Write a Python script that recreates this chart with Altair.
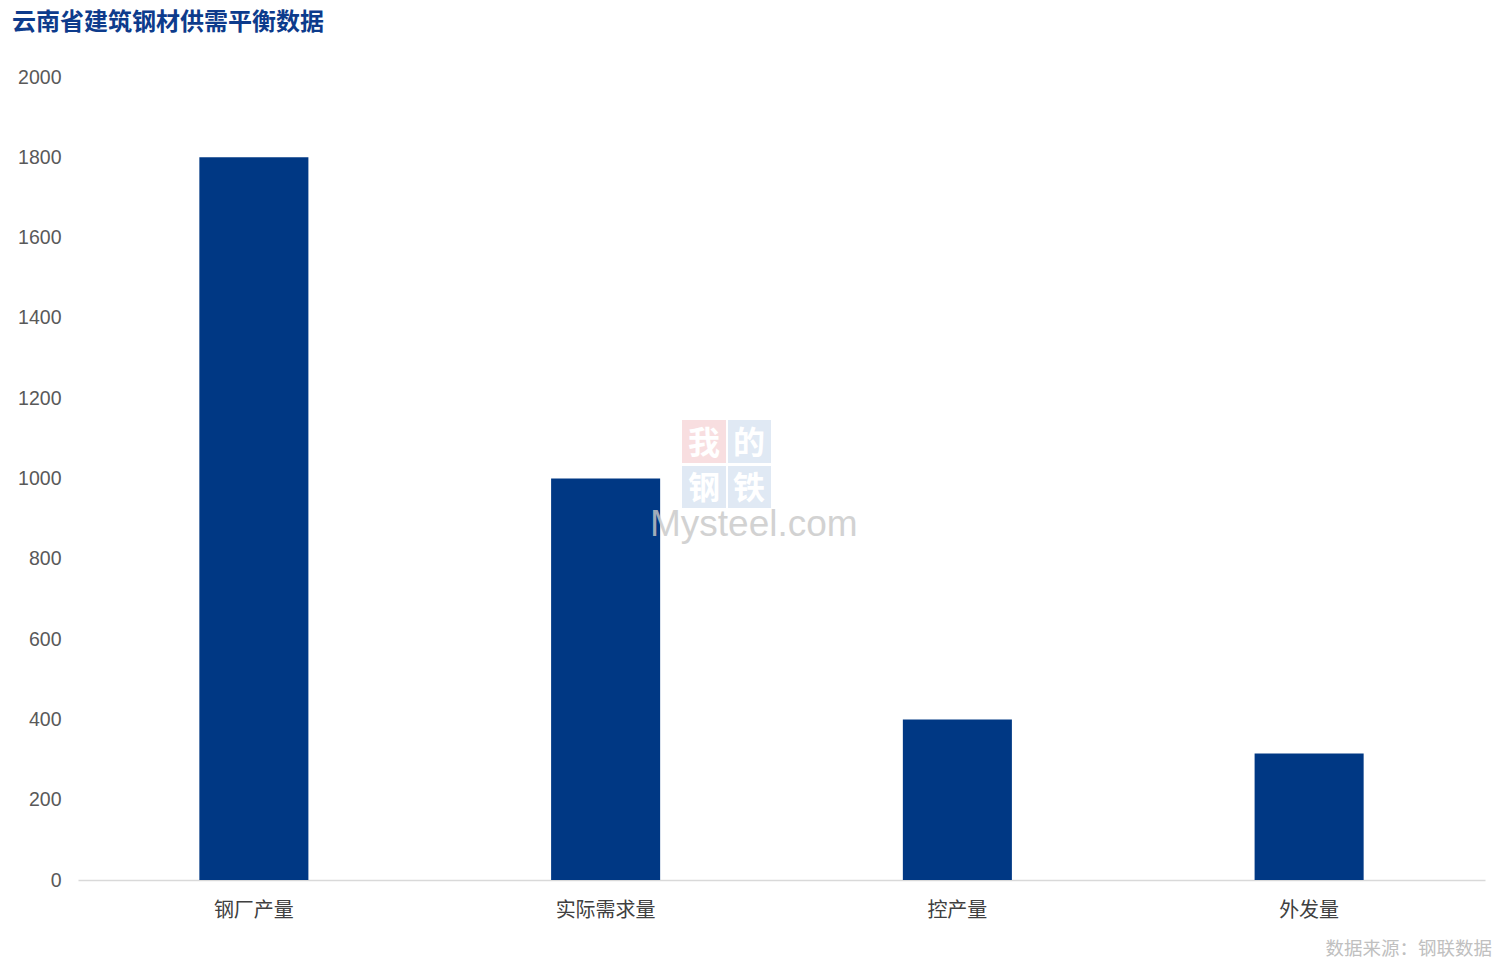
import altair as alt
import pandas as pd

categories = ["钢厂产量", "实际需求量", "控产量", "外发量"]
values = [1800, 1000, 400, 315]
y_ticks = [0, 200, 400, 600, 800, 1000, 1200, 1400, 1600, 1800, 2000]

title_text = "云南省建筑钢材供需平衡数据"
source_text = "数据来源：钢联数据"

df = pd.DataFrame({"cat": categories, "val": values})

W, H = 1407, 803
CJK = "Noto Sans CJK SC"

bars = alt.Chart(df).mark_bar(color="#003884").encode(
    x=alt.X("cat:N", sort=categories,
            scale=alt.Scale(paddingInner=0.69, paddingOuter=0.345),
            axis=alt.Axis(title=None, labelAngle=0, labelFont=CJK, labelFontSize=20,
                          labelColor="#404040", labelPadding=20, ticks=False,
                          domainColor="#d9d9d9", domainWidth=1.5)),
    y=alt.Y("val:Q", scale=alt.Scale(domain=[0, 2000], nice=False),
            axis=alt.Axis(title=None, values=y_ticks, format="d", grid=False, domain=False,
                          ticks=False, labelFont="Liberation Sans", labelFontSize=19.5,
                          labelColor="#595959", labelPadding=17)),
)

one = pd.DataFrame({"a": [0]})

def txt(text, x, y, size, color, font, weight="normal", align="left", opacity=1.0):
    return alt.Chart(one).mark_text(text=text, align=align, baseline="alphabetic",
                                    fontSize=size, color=color, font=font,
                                    fontWeight=weight, opacity=opacity).encode(
        x=alt.value(x), y=alt.value(y))

def box(x1, x2, y1, y2, color):
    return alt.Chart(one).mark_rect(color=color, opacity=0.75).encode(
        x=alt.value(x1), x2=alt.value(x2), y=alt.value(y1), y2=alt.value(y2))

title = txt(title_text, -66, -47, 24, "#0d3b8c", CJK, weight="bold")
source = txt(source_text, 1414, 878, 18.5, "#c0c0c0", CJK, align="right")

wm = [
    box(604, 648, 343, 386, "#f6d3d6"),
    box(650, 693, 343, 386, "#d6e2f0"),
    box(604, 648, 389, 431, "#d6e2f0"),
    box(650, 693, 389, 431, "#d6e2f0"),
    txt("我", 626, 377, 32, "#ffffff", CJK, weight="bold", align="center"),
    txt("的", 671, 377, 32, "#ffffff", CJK, weight="bold", align="center"),
    txt("钢", 626, 422, 32, "#ffffff", CJK, weight="bold", align="center"),
    txt("铁", 671, 422, 32, "#ffffff", CJK, weight="bold", align="center"),
    txt("Mysteel.com", 572, 459, 37, "#c8c8c8", "Liberation Sans", align="left", opacity=0.8),
]

chart = alt.layer(bars, *wm, title, source).properties(
    width=W, height=H,
    background="white",
    autosize=alt.AutoSizeParams(type="none"),
    padding={"left": 70, "top": 69, "right": 11, "bottom": 79},
).configure_view(strokeWidth=0, stroke=None)

chart.save("out.html", embed_options={"renderer": "svg", "actions": False})
